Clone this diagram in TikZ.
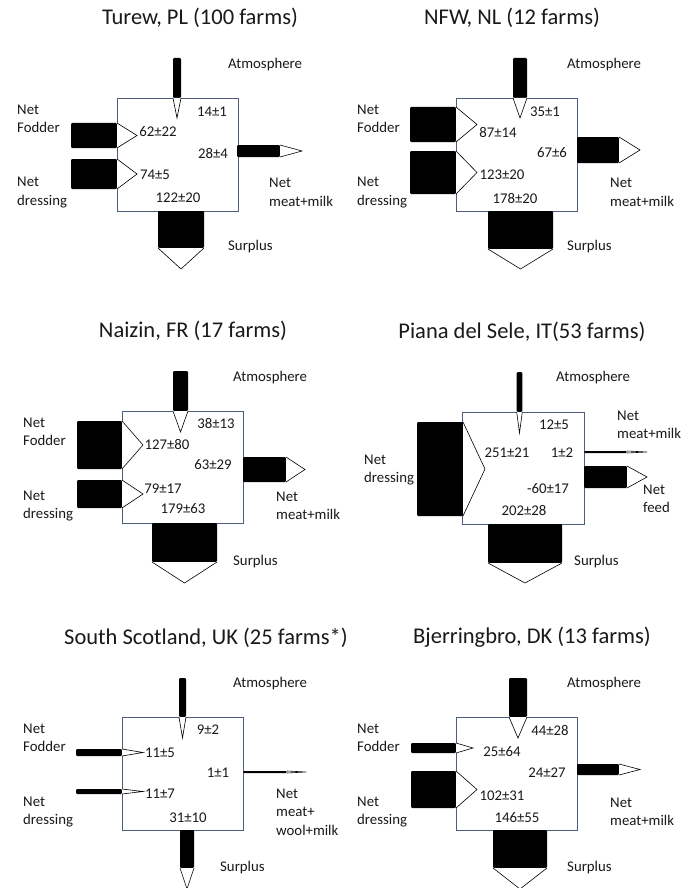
\documentclass[tikz,border=0pt]{standalone}
\usepackage{fontspec}
\setmainfont{Carlito}
\definecolor{boxline}{RGB}{75,95,125}
\definecolor{ink}{RGB}{25,25,25}
\tikzset{
  panelbox/.style={draw=boxline, line width=0.8pt, fill=white, inner sep=0},
  title/.style={font=\fontsize{22.5}{26}\selectfont, text=ink, inner sep=0},
  lbl/.style={font=\fontsize{14.8}{18.5}\selectfont, text=ink, inner sep=0, align=left, anchor=west},
  num/.style={font=\fontsize{14.8}{18}\selectfont, text=ink, inner sep=0},
  tipshape/.style={draw=black, line width=0.6pt, line join=miter, fill=white},
  barshape/.style={fill=black, rounded corners=1.2pt},
}
% horizontal flow: bar from x=#1 to x=#2, tip at x=#3, centre line y=#4, half width #5
\newcommand{\flowH}[5]{%
  \fill[barshape] (#1,{#4-#5}) rectangle (#2,{#4+#5});
  \filldraw[tipshape] (#2,{#4-#5}) -- (#3,#4) -- (#2,{#4+#5});
}
% vertical flow: bar from y=#1 to y=#2, tip at y=#3, centre line x=#4, half width #5
\newcommand{\flowV}[5]{%
  \fill[barshape] ({#4-#5},#1) rectangle ({#4+#5},#2);
  \filldraw[tipshape] ({#4-#5},#2) -- (#4,#3) -- ({#4+#5},#2);
}
\begin{document}
\begin{tikzpicture}[x=1pt,y=-1pt]
\useasboundingbox[fill=white] (0,0) rectangle (691,888);

% ---------------- Turew, PL ----------------
\node[title] (t1) at (200,18) {Turew, PL (100 farms)};
\node[panelbox, minimum width=121pt, minimum height=113pt] (b1) at (177.5,154.5) {};
\flowV{58}{98}{118}{177}{4}
\flowH{71}{117}{137}{135.5}{12.5}
\flowH{71}{117}{137}{174}{15}
\flowH{237}{280}{302}{151}{6}
\flowV{211}{248}{269}{181}{23}
\node[lbl] (a1) at (228,65) {Atmosphere};
\node[lbl] (f1) at (17,119) {Net\\Fodder};
\node[lbl] (d1) at (17,192.5) {Net\\dressing};
\node[lbl] (m1) at (269,192.5) {Net\\meat+milk};
\node[lbl] (s1) at (228,247) {Surplus};
\node[num] at (212,112) {14±1};
\node[num] at (158,132) {62±22};
\node[num] at (155,175) {74±5};
\node[num] at (178,198) {122±20};
\node[num] at (213,153) {28±4};

% ---------------- NFW, NL ----------------
\node[title] (t2) at (512,18) {NFW, NL (12 farms)};
\node[panelbox, minimum width=121pt, minimum height=113pt] (b2) at (516.5,154.5) {};
\flowV{58}{98}{118}{520}{7}
\flowH{410}{456}{477}{124.5}{17.5}
\flowH{410}{456}{477}{172.5}{21.5}
\flowH{577}{619}{640}{150}{13}
\flowV{211}{249}{269}{520.5}{32.5}
\node[lbl] (a2) at (567,65) {Atmosphere};
\node[lbl] (f2) at (357,119) {Net\\Fodder};
\node[lbl] (d2) at (357,192.5) {Net\\dressing};
\node[lbl] (m2) at (610,192.5) {Net\\meat+milk};
\node[lbl] (s2) at (567,247) {Surplus};
\node[num] at (545,112) {35±1};
\node[num] at (498,132) {87±14};
\node[num] at (502,175) {123±20};
\node[num] at (515,198) {178±20};
\node[num] at (552,153) {67±6};

% ---------------- Naizin, FR ----------------
\node[title] (t3) at (193,331) {Naizin, FR (17 farms)};
\node[panelbox, minimum width=121pt, minimum height=112pt] (b3) at (182.5,467) {};
\flowV{371}{411}{432}{180.5}{7.5}
\flowH{77}{122}{143}{445}{24}
\flowH{77}{122}{143}{494}{14}
\flowH{243}{286}{305}{469.5}{12.5}
\flowV{523}{562}{583}{184.5}{32.5}
\node[lbl] (a3) at (233,378) {Atmosphere};
\node[lbl] (f3) at (23,432) {Net\\Fodder};
\node[lbl] (d3) at (23,506) {Net\\dressing};
\node[lbl] (m3) at (276,506) {Net\\meat+milk};
\node[lbl] (s3) at (233,562) {Surplus};
\node[num] at (216,423) {38±13};
\node[num] at (167,444) {127±80};
\node[num] at (163,489) {79±17};
\node[num] at (183,509) {179±63};
\node[num] at (213,465) {63±29};

% ---------------- Piana del Sele, IT ----------------
\node[title] (t4) at (522,332) {Piana del Sele, IT(53 farms)};
\node[panelbox, minimum width=122pt, minimum height=112pt] (b4) at (523,468) {};
\flowV{372}{412}{433}{519.5}{2.8}
\flowH{417}{463}{485}{469}{47}
\flowH{584}{627}{647}{452}{1}
\flowH{584}{627}{647}{477}{11}
\flowV{524}{563}{583}{525}{37}
\node[lbl] (a4) at (556,378) {Atmosphere};
\node[lbl] (d4) at (364,470) {Net\\dressing};
\node[lbl] (m4) at (617,425) {Net\\meat+milk};
\node[lbl] (e4) at (643,499) {Net\\feed};
\node[lbl] (s4) at (574,562) {Surplus};
\node[num] at (554,425) {12±5};
\node[num] at (507,453) {251±21};
\node[num] at (562,453) {1±2};
\node[num] at (548,489) {-60±17};
\node[num] at (524,510) {202±28};

% ---------------- South Scotland, UK ----------------
\node[title] (t5) at (206,638) {South Scotland, UK (25 farms*)};
\node[panelbox, minimum width=121pt, minimum height=113pt] (b5) at (182.5,773.5) {};
\flowV{678}{717}{738}{182.5}{3.5}
\flowH{76}{122}{143}{752.5}{3.5}
\flowH{76}{122}{143}{791.5}{2.5}
\flowH{243}{287}{306}{772}{1}
\flowV{830}{868}{889}{187}{7}
\node[lbl] (a5) at (233,684) {Atmosphere};
\node[lbl] (f5) at (23,738) {Net\\Fodder};
\node[lbl] (d5) at (23,812) {Net\\dressing};
\node[lbl] (m5) at (276,812) {Net\\meat+\\wool+milk};
\node[lbl] (s5) at (220,868) {Surplus};
\node[num] at (208,730) {9±2};
\node[num] at (160,753) {11±5};
\node[num] at (160,794) {11±7};
\node[num] at (188,818) {31±10};
\node[num] at (218,773) {1±1};

% ---------------- Bjerringbro, DK ----------------
\node[title] (t6) at (532,637) {Bjerringbro, DK (13 farms)};
\node[panelbox, minimum width=121pt, minimum height=113pt] (b6) at (516.5,773.5) {};
\flowV{678}{717}{738}{518}{9}
\flowH{411}{456}{473}{748}{5}
\flowH{411}{456}{477}{789.5}{18.5}
\flowH{577}{619}{640}{769.5}{5.5}
\flowV{830}{868}{889}{520}{27}
\node[lbl] (a6) at (567,684) {Atmosphere};
\node[lbl] (f6) at (357,738) {Net\\Fodder};
\node[lbl] (d6) at (357,812) {Net\\dressing};
\node[lbl] (m6) at (610,812) {Net\\meat+milk};
\node[lbl] (s6) at (567,868) {Surplus};
\node[num] at (550,730) {44±28};
\node[num] at (502,752) {25±64};
\node[num] at (502,796) {102±31};
\node[num] at (517,818) {146±55};
\node[num] at (547,773) {24±27};
\end{tikzpicture}
\end{document}
